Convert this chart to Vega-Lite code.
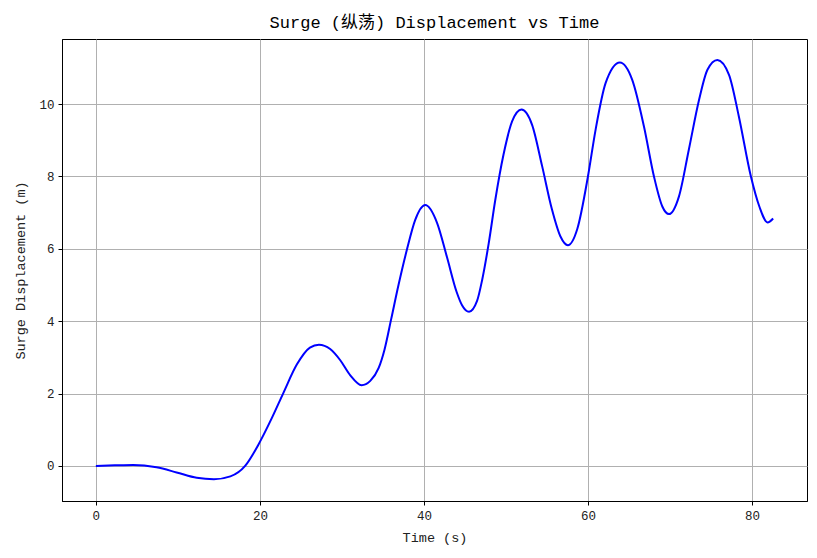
{
  "$schema": "https://vega.github.io/schema/vega-lite/v6.json",
  "autosize": {"type": "none"},
  "width": 745,
  "height": 462,
  "padding": {"left": 62, "top": 39, "right": 10, "bottom": 57},
  "background": "white",
  "title": {
    "text": "Surge (纵荡) Displacement vs Time",
    "font": "Liberation Mono, Noto Sans CJK SC",
    "fontSize": 17,
    "fontWeight": "normal",
    "color": "#000000",
    "anchor": "middle",
    "offset": 7
  },
  "data": {
    "values": [
      {"t": 0.0, "surge": 0.0},
      {"t": 2.3, "surge": 0.015},
      {"t": 4.55, "surge": 0.025},
      {"t": 7.4, "surge": -0.04},
      {"t": 9.85, "surge": -0.18},
      {"t": 12.3, "surge": -0.33},
      {"t": 14.4, "surge": -0.37},
      {"t": 16.4, "surge": -0.29},
      {"t": 18.2, "surge": 0.0},
      {"t": 19.8, "surge": 0.58},
      {"t": 21.45, "surge": 1.32},
      {"t": 22.87, "surge": 2.02},
      {"t": 24.5, "surge": 2.8},
      {"t": 26.1, "surge": 3.27},
      {"t": 27.2, "surge": 3.35},
      {"t": 28.57, "surge": 3.23},
      {"t": 29.8, "surge": 2.92},
      {"t": 31.0, "surge": 2.51},
      {"t": 32.4, "surge": 2.23},
      {"t": 33.46, "surge": 2.35},
      {"t": 34.47, "surge": 2.7},
      {"t": 35.2, "surge": 3.22},
      {"t": 36.0, "surge": 4.05},
      {"t": 36.9, "surge": 5.0},
      {"t": 37.93, "surge": 5.98},
      {"t": 38.94, "surge": 6.8},
      {"t": 40.16, "surge": 7.21},
      {"t": 41.6, "surge": 6.72},
      {"t": 42.8, "surge": 5.78},
      {"t": 44.0, "surge": 4.8},
      {"t": 44.65, "surge": 4.44},
      {"t": 45.5, "surge": 4.26},
      {"t": 46.48, "surge": 4.56},
      {"t": 47.1, "surge": 5.14},
      {"t": 47.9, "surge": 6.15},
      {"t": 48.7, "surge": 7.35},
      {"t": 49.7, "surge": 8.6},
      {"t": 50.75, "surge": 9.52},
      {"t": 51.9, "surge": 9.85},
      {"t": 53.2, "surge": 9.42},
      {"t": 54.4, "surge": 8.3},
      {"t": 55.6, "surge": 7.1},
      {"t": 56.65, "surge": 6.34},
      {"t": 57.55, "surge": 6.1},
      {"t": 58.7, "surge": 6.55},
      {"t": 60.0, "surge": 8.0},
      {"t": 60.93, "surge": 9.29},
      {"t": 62.15, "surge": 10.58},
      {"t": 63.9, "surge": 11.15},
      {"t": 65.4, "surge": 10.67},
      {"t": 66.83, "surge": 9.38},
      {"t": 68.05, "surge": 8.0},
      {"t": 69.07, "surge": 7.17},
      {"t": 69.88, "surge": 6.96},
      {"t": 71.1, "surge": 7.45},
      {"t": 72.3, "surge": 8.74},
      {"t": 73.55, "surge": 10.12},
      {"t": 74.57, "surge": 10.95},
      {"t": 75.78, "surge": 11.22},
      {"t": 77.2, "surge": 10.81},
      {"t": 78.4, "surge": 9.66},
      {"t": 79.85, "surge": 8.02},
      {"t": 80.9, "surge": 7.17},
      {"t": 81.9, "surge": 6.73},
      {"t": 82.58, "surge": 6.84}
    ]
  },
  "mark": {"type": "line", "color": "#0000ff", "strokeWidth": 2, "interpolate": "monotone"},
  "encoding": {
    "x": {
      "field": "t",
      "type": "quantitative",
      "title": "Time (s)",
      "scale": {"domain": [-4.13, 86.71], "nice": false, "zero": false},
      "axis": {"values": [0, 20, 40, 60, 80], "titlePadding": 9}
    },
    "y": {
      "field": "surge",
      "type": "quantitative",
      "title": "Surge Displacement (m)",
      "scale": {"domain": [-0.97, 11.8], "nice": false, "zero": false},
      "axis": {"values": [0, 2, 4, 6, 8, 10], "titlePadding": 11}
    }
  },
  "config": {
    "view": {"stroke": "#000000", "strokeWidth": 1},
    "axis": {
      "labelFont": "Liberation Mono",
      "titleFont": "Liberation Mono",
      "labelFontSize": 12.5,
      "titleFontSize": 13.5,
      "titleFontWeight": "normal",
      "labelColor": "#222222",
      "titleColor": "#222222",
      "domainColor": "#000000",
      "domainWidth": 1,
      "tickColor": "#000000",
      "tickSize": 4,
      "tickWidth": 1,
      "labelPadding": 4,
      "grid": true,
      "gridColor": "#b0b0b0",
      "gridWidth": 1
    }
  }
}
